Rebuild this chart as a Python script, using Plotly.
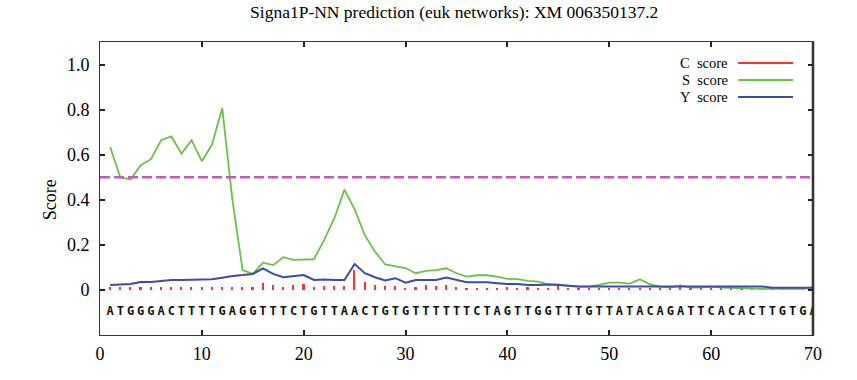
import plotly.graph_objects as go

TITLE = "Signa1P-NN prediction (euk networks): XM 006350137.2"
SEQUENCE = "ATGGGACTTTTGAGGTTTCTGTTAACTGTGTTTTTTCTAGTTGGTTTGTTATACAGATTCACACTTGTGA"
positions = list(range(1, 71))

c_score = [0.012, 0.012, 0.012, 0.012, 0.012, 0.012, 0.012, 0.012, 0.012, 0.012,
           0.012, 0.012, 0.012, 0.015, 0.015, 0.030, 0.020, 0.012, 0.022, 0.027,
           0.012, 0.018, 0.018, 0.018, 0.088, 0.037, 0.022, 0.016, 0.018, 0.007,
           0.015, 0.020, 0.018, 0.020, 0.015, 0.007, 0.007, 0.007, 0.007, 0.015,
           0.007, 0.015, 0.010, 0.010, 0.018, 0.010, 0.010, 0.010, 0.010, 0.010,
           0.010, 0.010, 0.010, 0.010, 0.010, 0.010, 0.012, 0.008, 0.008, 0.008,
           0.008, 0.008, 0.008, 0.008, 0.008, 0.008, 0.008, 0.008, 0.008, 0.008]

s_score = [0.634, 0.499, 0.490, 0.553, 0.580, 0.664, 0.681, 0.605, 0.664, 0.571,
           0.645, 0.807, 0.400, 0.088, 0.071, 0.121, 0.110, 0.145, 0.133, 0.136,
           0.136, 0.221, 0.317, 0.445, 0.357, 0.243, 0.170, 0.113, 0.106, 0.097,
           0.074, 0.085, 0.088, 0.096, 0.074, 0.059, 0.065, 0.065, 0.059, 0.049,
           0.048, 0.040, 0.037, 0.025, 0.025, 0.018, 0.015, 0.015, 0.022, 0.032,
           0.032, 0.028, 0.047, 0.025, 0.015, 0.010, 0.020, 0.010, 0.010, 0.015,
           0.010, 0.008, 0.006, 0.006, 0.005, 0.005, 0.005, 0.005, 0.005, 0.010]

y_score = [0.022, 0.025, 0.026, 0.035, 0.035, 0.040, 0.044, 0.044, 0.044, 0.044,
           0.047, 0.054, 0.062, 0.066, 0.071, 0.096, 0.071, 0.056, 0.062, 0.066,
           0.044, 0.046, 0.044, 0.044, 0.115, 0.074, 0.056, 0.042, 0.052, 0.032,
           0.044, 0.044, 0.044, 0.055, 0.044, 0.034, 0.034, 0.034, 0.030, 0.026,
           0.026, 0.022, 0.022, 0.024, 0.022, 0.018, 0.015, 0.015, 0.015, 0.015,
           0.015, 0.015, 0.015, 0.015, 0.015, 0.015, 0.015, 0.015, 0.012, 0.012,
           0.015, 0.015, 0.015, 0.015, 0.015, 0.010, 0.010, 0.010, 0.010, 0.010]

THRESHOLD = 0.5
SEQ_Y = -0.1
x_ticks = [0, 10, 20, 30, 40, 50, 60, 70]
y_ticks = [0, 0.2, 0.4, 0.6, 0.8, 1.0]
y_tick_text = ["0", "0.2", "0.4", "0.6", "0.8", "1.0"]

RED = "#ff3030"
GREEN = "#6cc04a"
BLUE = "#3e4aaa"
MAGENTA = "#c45cb4"
SERIF = "Liberation Serif"

fig = go.Figure()
fig.add_hline(y=THRESHOLD, line=dict(color=MAGENTA, width=2.5, dash="10px,4px"))
fig.add_trace(go.Bar(x=positions, y=c_score, width=0.16, marker=dict(color=RED, line=dict(width=0)),
                     name="C score"))
fig.add_trace(go.Scatter(x=positions, y=s_score, mode="lines", line=dict(color=GREEN, width=1.8),
                         name="S score"))
fig.add_trace(go.Scatter(x=positions, y=y_score, mode="lines", line=dict(color=BLUE, width=2),
                         name="Y score"))
fig.add_trace(go.Scatter(x=positions, y=[SEQ_Y] * len(SEQUENCE), mode="text", text=list(SEQUENCE),
                         textfont=dict(family="DejaVu Sans Mono", size=12, color="#111", weight="bold"),
                         hoverinfo="skip"))

# gnuplot-style legend: text then line sample
legend_items = [("C  score", RED), ("S  score", GREEN), ("Y  score", BLUE)]
leg_y = [0.928, 0.870, 0.812]
for (label, col), ly in zip(legend_items, leg_y):
    fig.add_annotation(x=0.883, y=ly, xref="paper", yref="paper", text=label, showarrow=False,
                       xanchor="right", yanchor="middle", font=dict(family=SERIF, size=14.5, color="black"))
    fig.add_shape(type="line", xref="paper", yref="paper", x0=0.895, x1=0.972, y0=ly, y1=ly,
                  line=dict(color=col, width=2))

fig.add_annotation(x=-0.07, y=0.46, xref="paper", yref="paper", text="Score", showarrow=False,
                   xanchor="center", yanchor="middle",
                   textangle=-90, font=dict(family=SERIF, size=18, color="black"))
fig.add_shape(type="line", xref="paper", yref="paper", x0=1, x1=1, y0=0, y1=1,
              line=dict(color="#333", width=2.5))

axis_common = dict(showgrid=False, zeroline=False, showline=True, linecolor="#333", linewidth=1,
                   mirror="ticks", ticks="inside", ticklen=5, tickcolor="#222", tickwidth=1.5,
                   tickfont=dict(family=SERIF, size=18, color="black"), automargin=False)
fig.update_xaxes(range=[0, 70], tickvals=x_ticks, ticklabelstandoff=2, **axis_common)
fig.update_yaxes(range=[-0.2, 1.1], tickvals=y_ticks, ticktext=y_tick_text, ticklabelstandoff=6,
                 **axis_common)

fig.update_layout(
    template="none",
    width=857, height=380,
    margin=dict(l=100, r=44, t=42, b=45),
    paper_bgcolor="white", plot_bgcolor="white",
    showlegend=False,
    bargap=0,
    title=dict(text=TITLE, x=0.53, xanchor="center", y=0.968, yanchor="middle", yref="container",
               font=dict(family=SERIF, size=17.5, color="black")),
    font=dict(family=SERIF),
)

fig.write_html("out.html", config={"displayModeBar": False},
               post_script="document.body.style.margin='0';")
